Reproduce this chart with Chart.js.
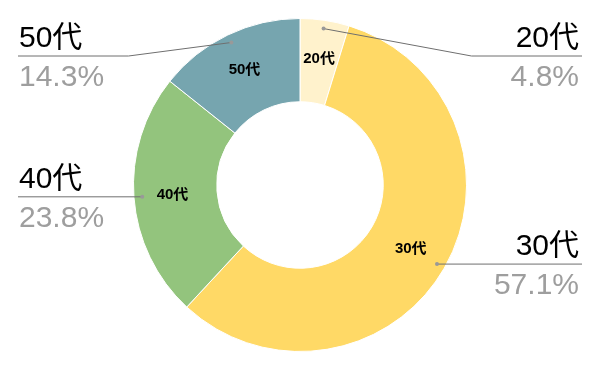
<!DOCTYPE html>
<html>
<head>
<meta charset="utf-8">
<script src="https://cdn.jsdelivr.net/npm/chart.js@4/dist/chart.umd.min.js"></script>
<style>
html,body{margin:0;padding:0;background:#fff;}
#wrap{width:600px;height:371px;position:relative;}
</style>
</head>
<body>
<div id="wrap"><canvas id="c" width="600" height="371"></canvas></div>
<script>
const categories = ['20代', '30代', '40代', '50代'];
const counts = [1, 12, 5, 3];
const percentLabels = ['4.8%', '57.1%', '23.8%', '14.3%'];
const colors = ['#FFF2CC', '#FFD966', '#93C47D', '#76A5AF'];

const labelPlugin = {
  id: 'pieLabels',
  afterDatasetsDraw(chart) {
    const ctx = chart.ctx;
    const meta = chart.getDatasetMeta(0);
    const W = chart.width;
    ctx.save();
    meta.data.forEach((arc, i) => {
      const p = arc.getProps(['x','y','startAngle','endAngle','innerRadius','outerRadius'], true);
      const mid = (p.startAngle + p.endAngle) / 2;
      const cos = Math.cos(mid), sin = Math.sin(mid);
      // inner label
      const rl = (p.innerRadius + p.outerRadius) / 2 + 3;
      ctx.fillStyle = '#000';
      ctx.font = 'bold 15px "Liberation Sans", Arial, "Noto Sans CJK JP", sans-serif';
      ctx.textAlign = 'center';
      ctx.textBaseline = 'middle';
      ctx.fillText(categories[i], p.x + rl * cos, p.y + rl * sin);
      // leader line
      const rd = p.outerRadius * 0.95;
      const dx = p.x + rd * cos, dy = p.y + rd * sin;
      const right = cos >= 0;
      const lineY = Math.max(dy, 56);
      const elbowX = right ? p.x + p.outerRadius + 5 : p.x - p.outerRadius - 5;
      const endX = right ? W - 18 : 18;
      ctx.strokeStyle = '#6f6f6f';
      ctx.lineWidth = 1;
      ctx.beginPath();
      ctx.moveTo(dx, dy);
      if (Math.abs(lineY - dy) > 0.5) {
        ctx.lineTo(elbowX, lineY);
      }
      ctx.lineTo(endX, lineY);
      ctx.stroke();
      ctx.fillStyle = '#999';
      ctx.beginPath();
      ctx.arc(dx, dy, 2, 0, Math.PI * 2);
      ctx.fill();
      // outside texts
      const tx = right ? W - 21 : 19;
      ctx.textAlign = right ? 'right' : 'left';
      ctx.textBaseline = 'alphabetic';
      ctx.font = '30px "Liberation Sans", Arial, "Noto Sans CJK JP", sans-serif';
      ctx.fillStyle = '#000';
      ctx.fillText(categories[i], tx, lineY - 9);
      ctx.fillStyle = '#9e9e9e';
      ctx.fillText(percentLabels[i], tx, lineY + 30);
    });
    ctx.restore();
  }
};

new Chart(document.getElementById('c'), {
  type: 'doughnut',
  data: {
    labels: categories,
    datasets: [{
      data: counts,
      backgroundColor: colors,
      borderColor: '#ffffff',
      borderWidth: 1
    }]
  },
  options: {
    responsive: false,
    animation: false,
    cutout: '50%',
    layout: { padding: { top: 18, bottom: 19, left: 0, right: 0 } },
    plugins: {
      legend: { display: false },
      tooltip: { enabled: false }
    }
  },
  plugins: [labelPlugin]
});
</script>
</body>
</html>
